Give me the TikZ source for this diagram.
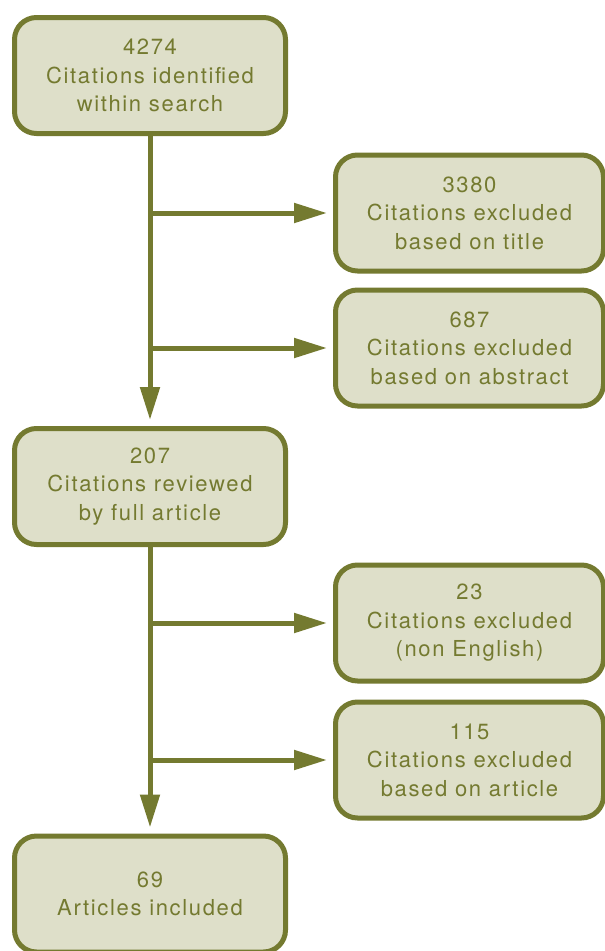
\documentclass[tikz,border=0pt]{standalone}
\usepackage{fontspec}
\setmainfont{TeX Gyre Heros}[LetterSpace=7.5]
\usetikzlibrary{arrows.meta}
\definecolor{olive}{HTML}{747A30}
\definecolor{boxfill}{HTML}{DEDFC9}
\tikzset{
  flowbox/.style={draw=olive, fill=boxfill, line width=5pt, rounded corners=22pt,
    minimum width=271pt, minimum height=116pt, align=center, text=olive,
    inner sep=0pt, font=\fontsize{22}{28.5}\selectfont},
  sidebox/.style={flowbox, minimum width=268pt},
  arr/.style={draw=olive, line width=5pt, -{Triangle[length=33pt,width=19pt]}, shorten >=6pt}
}
\begin{document}
\begin{tikzpicture}[x=1pt,y=-1pt]
\useasboundingbox (0,0) rectangle (605,951);
\node[flowbox] (A) at (150,75.5) {4274\\Citations identified\\within search};
\node[sidebox] (C1) at (469.5,213) {3380\\Citations excluded\\based on title};
\node[sidebox] (C2) at (469.5,348) {687\\Citations excluded\\based on abstract};
\node[flowbox] (B) at (150,486.5) {207\\Citations reviewed\\by full article};
\node[sidebox] (C3) at (469.5,623) {23\\Citations excluded\\(non English)};
\node[sidebox] (C4) at (469.5,760) {115\\Citations excluded\\based on article};
\node[flowbox] (D) at (150,894) {69\\Articles included};
\draw[arr] (A.south) -- (B.north);
\draw[arr] (B.south) -- (D.north);
\draw[arr] (A.south |- C1.west) -- (C1.west);
\draw[arr] (A.south |- C2.west) -- (C2.west);
\draw[arr] (B.south |- C3.west) -- (C3.west);
\draw[arr] (B.south |- C4.west) -- (C4.west);
\end{tikzpicture}
\end{document}
